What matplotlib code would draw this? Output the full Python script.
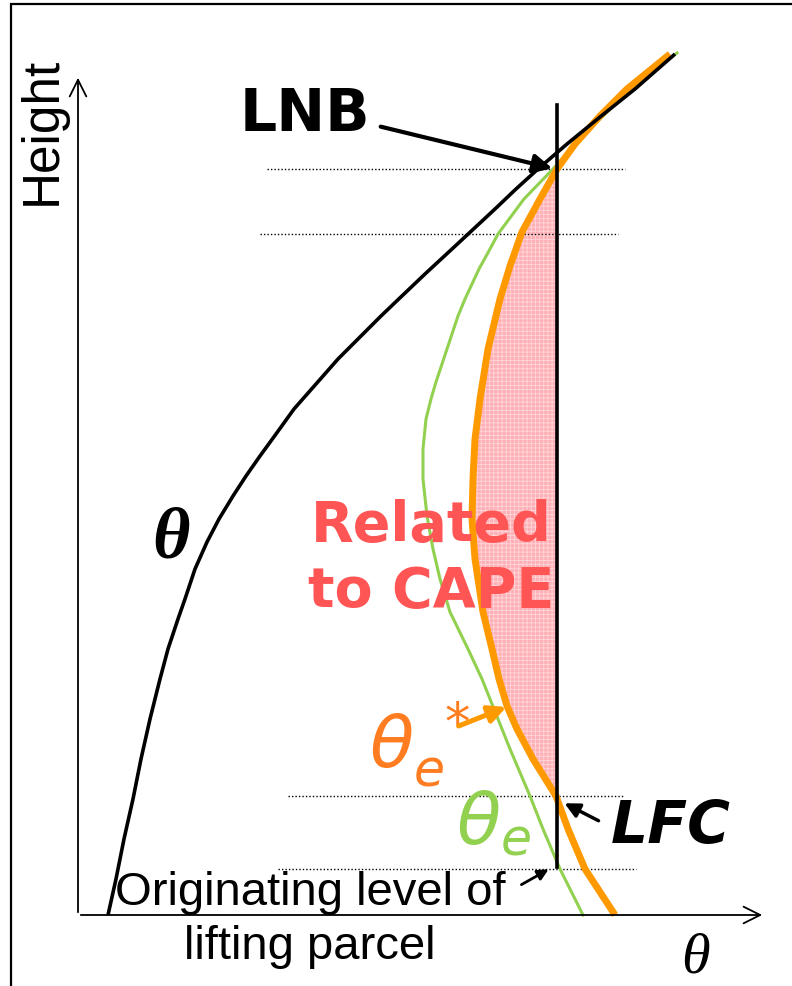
import numpy as np
import matplotlib
matplotlib.use('Agg')
from matplotlib import pyplot as plt

# curves: theta (x) and height (y), pixel-like units
theta_env = [108, 116, 124, 133, 141, 150, 160, 168, 178, 185, 195, 207, 219, 233, 246, 260,
             276, 294, 316, 338, 358, 381, 404, 425, 452, 466, 495, 516, 538, 567, 600, 635, 675]
h_env = [0, 36, 76, 116, 156, 196, 236, 266, 296, 316, 346, 373, 396, 419, 439, 459,
         481, 506, 531, 556, 576, 599, 621, 641, 666, 679, 706, 726, 746, 771, 798, 826, 861]

theta_e = [583, 560, 543, 530, 510, 490, 482, 468, 450, 440, 433, 427, 423, 423, 426, 431,
           436, 447, 458, 465, 479, 490, 498, 524, 553, 575, 600, 630, 677]
h_e = [0, 46, 86, 119, 166, 216, 236, 266, 303, 336, 366, 399, 436, 466, 496, 516,
       533, 566, 599, 616, 646, 666, 681, 716, 746, 771, 796, 826, 862]

theta_es = [615, 585, 568, 556, 533, 517, 507, 499, 492, 483, 478, 475, 472, 473, 475, 480, 488,
            500, 510, 522, 540, 557, 575, 600, 627, 670]
h_es = [0, 46, 86, 119, 156, 186, 209, 236, 266, 303, 336, 356, 396, 436, 476, 516, 566,
        616, 649, 683, 716, 746, 771, 799, 826, 861]

theta_parcel = 557
h_parcel = [48, 810]
h_lfc = 119
h_lnb = 746
dotted_levels = [746, 681, 119, 46]
dotted_x0 = [267, 260, 288, 278]
dotted_x1 = [625, 618, 623, 636]

green = '#92d050'
orange = '#ff9900'
orange_txt = '#ff7c20'
red_txt = '#ff5555'

plt.rcParams['hatch.linewidth'] = 0.6
fig = plt.figure(figsize=(7.92, 9.87), dpi=100)
ax = fig.add_axes([0, 0, 1, 1])
ax.set_xlim(0, 792)
ax.set_ylim(-71, 916)
ax.axis('off')

# frame of the slide
ax.plot([11, 11, 792], [-71, 911, 911], color='k', lw=1.6, solid_joinstyle='miter')

# shaded CAPE area between theta_e* and the parcel line
sel = [i for i in range(len(h_es)) if h_lfc <= h_es[i] <= h_lnb]
hs = np.array(h_es)[sel]
ts = np.array(theta_es)[sel]
ax.fill_betweenx(hs, ts, theta_parcel, facecolor='#ffb0b6', edgecolor='#ffd6d9',
                 hatch='++++', linewidth=0, zorder=1)

for y, x0, x1 in zip(dotted_levels, dotted_x0, dotted_x1):
    ax.plot([x0, x1], [y, y], color='k', lw=1.0, linestyle=(0, (1, 1.5)), zorder=2)

ax.plot(theta_env, h_env, color='k', lw=2.6, solid_capstyle='butt', zorder=4)
ax.plot(theta_e, h_e, color=green, lw=2.2, zorder=3)
ax.plot(theta_es, h_es, color=orange, lw=5, solid_capstyle='butt', zorder=3)
ax.plot([theta_parcel, theta_parcel], h_parcel, color='k', lw=2.6, zorder=5)

# axes arrows
ax.annotate('', xy=(78, 840), xytext=(78, 0),
            arrowprops=dict(arrowstyle='->', lw=1.3, color='k', mutation_scale=30))
ax.annotate('', xy=(765, 0), xytext=(78, 0),
            arrowprops=dict(arrowstyle='->', lw=1.3, color='k', mutation_scale=30))

sans = 'Liberation Sans'
ax.text(42, 785, 'Height', rotation=90, ha='center', va='center', fontsize=37, family=sans)
ax.text(695, -57, 'θ', ha='center', va='baseline', fontsize=42, family='Liberation Serif',
        style='italic')
ax.text(171, 376, 'θ', ha='center', va='center', fontsize=52, family='Liberation Serif',
        style='italic', weight='bold')

ax.text(305, 801, 'LNB', ha='center', va='center', fontsize=42, weight='bold', family='DejaVu Sans')
ax.annotate('', xy=(555, 746), xytext=(378, 789),
            arrowprops=dict(arrowstyle='-|>', lw=3, color='k', mutation_scale=28))

ax.text(671, 89, 'LFC', ha='center', va='center', fontsize=42, weight='bold', style='italic',
        family='DejaVu Sans')
ax.annotate('', xy=(562, 113), xytext=(601, 93),
            arrowprops=dict(arrowstyle='-|>', lw=2.5, color='k', mutation_scale=22))

ax.text(431, 357, 'Related\nto CAPE', ha='center', va='center', fontsize=40, weight='bold',
        color=red_txt, family='DejaVu Sans', linespacing=1.3)

ax.text(420, 171, r'$\theta_e^{\ *}$', ha='center', va='center', fontsize=52, color=orange_txt)
ax.annotate('', xy=(509, 209), xytext=(456, 188),
            arrowprops=dict(arrowstyle='-|>', lw=3.6, color=orange, mutation_scale=26))

ax.text(494, 92, r'$\theta_e$', ha='center', va='center', fontsize=52, color=green)

ax.text(310, -4, 'Originating level of\nlifting parcel', ha='center', va='center', fontsize=34,
        family=sans, linespacing=1.3)
ax.annotate('', xy=(551, 47), xytext=(519, 29),
            arrowprops=dict(arrowstyle='-|>', lw=2, color='k', mutation_scale=16))

fig.savefig('out.png', dpi=100)
